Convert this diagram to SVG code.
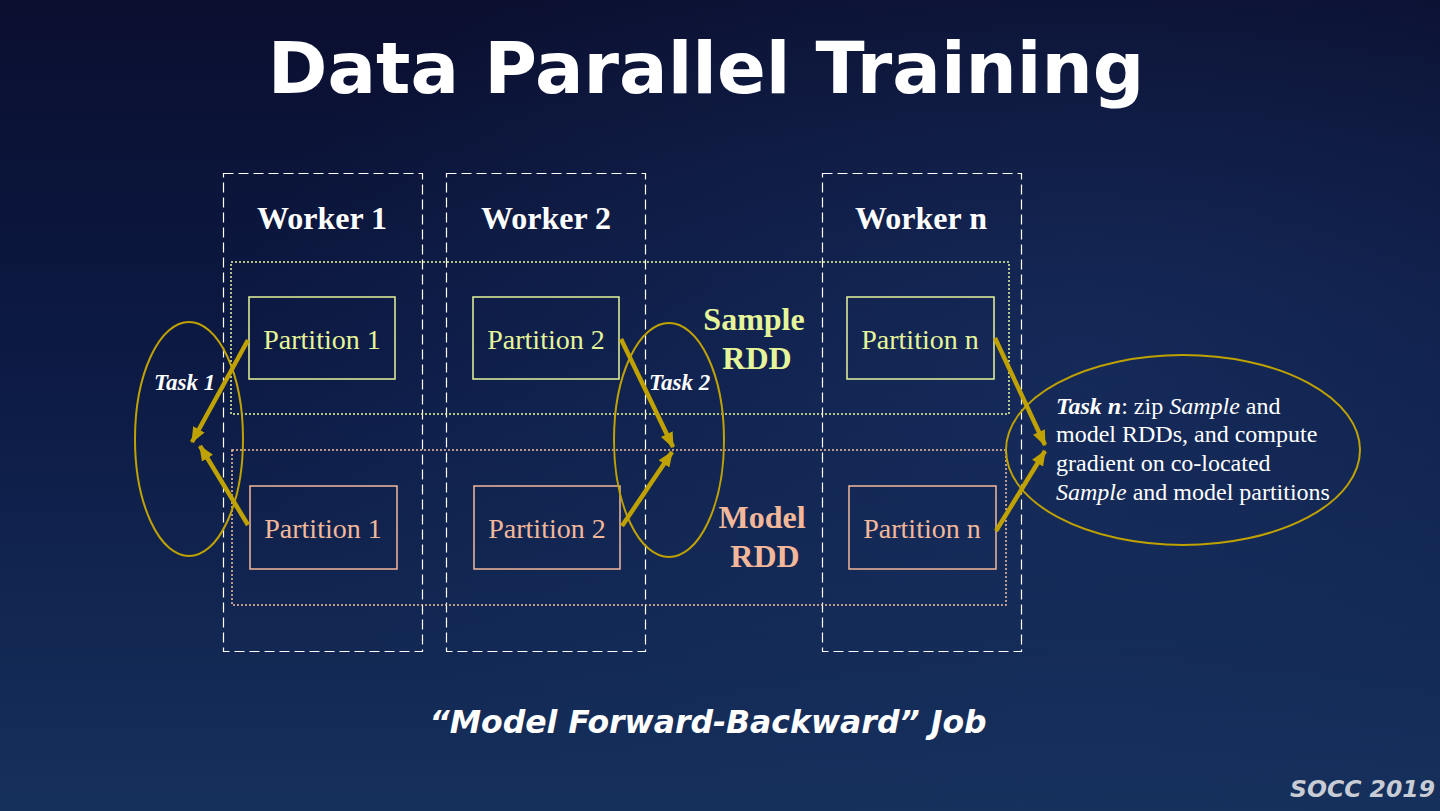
<svg xmlns="http://www.w3.org/2000/svg" width="1440" height="811" viewBox="0 0 1440 811">
<defs>
<linearGradient id="bg" x1="0" y1="0" x2="0" y2="1">
<stop offset="0" stop-color="#0b0f30"/>
<stop offset="0.45" stop-color="#0c1a44"/>
<stop offset="1" stop-color="#16305c"/>
</linearGradient>
<radialGradient id="glow" cx="0.75" cy="0.45" r="0.6">
<stop offset="0" stop-color="#1e3a6e" stop-opacity="0.5"/>
<stop offset="1" stop-color="#1e3a6e" stop-opacity="0"/>
</radialGradient>
<marker id="ah" viewBox="0 0 12 10" refX="11" refY="5" markerWidth="16" markerHeight="13" markerUnits="userSpaceOnUse" orient="auto">
<path d="M0,0 L12,5 L0,10 Z" fill="#bfa100"/>
</marker>
<style>
.worker{fill:none;stroke:#ffffff;stroke-width:1.2;stroke-dasharray:10 5}
.wlabel{font-family:"Liberation Serif",serif;font-weight:bold;font-size:32px;fill:#ffffff;text-anchor:middle}
.srdd{fill:none;stroke:#eaf7a0;stroke-width:1.5;stroke-dasharray:2 2}
.mrdd{fill:none;stroke:#f5bfa0;stroke-width:1.5;stroke-dasharray:2 2}
.sp rect{fill:none;stroke:#e6f59a;stroke-width:1.5}
.sp text{font-family:"Liberation Serif",serif;font-size:28px;fill:#e6f59a;text-anchor:middle}
.mp rect{fill:none;stroke:#f3b89a;stroke-width:1.5}
.mp text{font-family:"Liberation Serif",serif;font-size:28px;fill:#f3b89a;text-anchor:middle}
.task{fill:none;stroke:#bfa100;stroke-width:2}
.tlabel{font-family:"Liberation Serif",serif;font-weight:bold;font-style:italic;font-size:23px;fill:#ffffff}
.arrow{stroke:#bfa100;stroke-width:4.5;fill:none;marker-end:url(#ah)}
.tn{font-family:"Liberation Serif",serif;font-size:24px;fill:#ffffff}
.rdd{font-family:"Liberation Serif",serif;font-weight:bold;font-size:32px;text-anchor:middle}
</style>
</defs>
<rect width="1440" height="811" fill="url(#bg)"/>
<rect width="1440" height="811" fill="url(#glow)"/>

<text x="706" y="93" font-family="DejaVu Sans, sans-serif" font-weight="bold" font-size="72" fill="#ffffff" text-anchor="middle">Data Parallel Training</text>

<g id="worker1"><rect class="worker" x="223.5" y="173.5" width="199" height="478"/><text class="wlabel" x="322" y="229">Worker 1</text></g>
<g id="worker2"><rect class="worker" x="446.5" y="173.5" width="199" height="478"/><text class="wlabel" x="546" y="229">Worker 2</text></g>
<g id="workern"><rect class="worker" x="822.5" y="173.5" width="199" height="478"/><text class="wlabel" x="921" y="229">Worker n</text></g>

<g id="sample-rdd"><rect class="srdd" x="231" y="262" width="778" height="152"/>
<text class="rdd" fill="#e6f59a"><tspan x="754" y="330">Sample</tspan><tspan x="757" y="369">RDD</tspan></text></g>
<g id="model-rdd"><rect class="mrdd" x="232" y="450" width="774" height="155"/>
<text class="rdd" fill="#f3b89a"><tspan x="762" y="528">Model</tspan><tspan x="765" y="567">RDD</tspan></text></g>

<g id="sp1" class="sp"><rect x="249" y="297" width="146" height="82"/><text x="322" y="349">Partition 1</text></g>
<g id="sp2" class="sp"><rect x="473" y="297" width="146" height="82"/><text x="546" y="349">Partition 2</text></g>
<g id="spn" class="sp"><rect x="847" y="297" width="147" height="82"/><text x="920" y="349">Partition n</text></g>
<g id="mp1" class="mp"><rect x="250" y="486" width="147" height="83"/><text x="323" y="538">Partition 1</text></g>
<g id="mp2" class="mp"><rect x="474" y="486" width="146" height="83"/><text x="547" y="538">Partition 2</text></g>
<g id="mpn" class="mp"><rect x="849" y="486" width="147" height="83"/><text x="922" y="538">Partition n</text></g>

<g id="task1"><ellipse class="task" cx="189" cy="439" rx="54" ry="117"/><text class="tlabel" x="154" y="390">Task 1</text></g>
<g id="task2"><ellipse class="task" cx="669" cy="440" rx="55" ry="117"/><text class="tlabel" x="649" y="390">Task 2</text></g>
<g id="taskn"><ellipse class="task" cx="1183" cy="450" rx="177" ry="95"/>
<text class="tn"><tspan x="1056" y="414"><tspan font-weight="bold" font-style="italic">Task n</tspan>: zip <tspan font-style="italic">Sample</tspan> and</tspan><tspan x="1056" y="442">model RDDs, and compute</tspan><tspan x="1056" y="471">gradient on co-located</tspan><tspan x="1056" y="500"><tspan font-style="italic">Sample</tspan> and model partitions</tspan></text></g>

<g id="connectors">
<line class="arrow" x1="248" y1="340" x2="192" y2="442"/>
<line class="arrow" x1="248" y1="525" x2="200" y2="446"/>
<line class="arrow" x1="621" y1="339" x2="673" y2="447"/>
<line class="arrow" x1="622" y1="526" x2="672" y2="452"/>
<line class="arrow" x1="995" y1="338" x2="1045" y2="445"/>
<line class="arrow" x1="996" y1="531" x2="1045" y2="451"/>
</g>

<text x="708" y="733" font-family="DejaVu Sans, sans-serif" font-weight="bold" font-style="italic" font-size="31.5" fill="#ffffff" text-anchor="middle">“Model Forward-Backward” Job</text>
<text x="1435" y="797" font-family="DejaVu Sans, sans-serif" font-weight="bold" font-style="italic" font-size="23.5" fill="#c8ccd4" text-anchor="end">SOCC 2019</text>
</svg>
